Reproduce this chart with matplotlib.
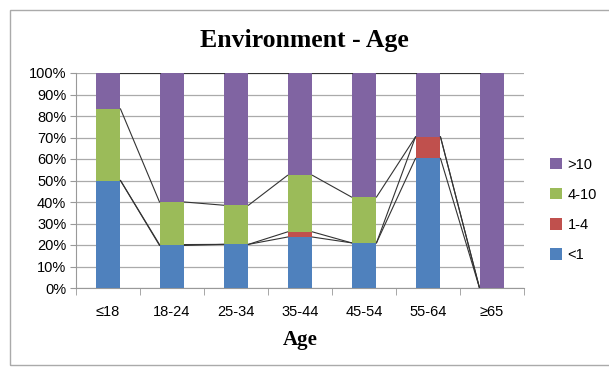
import matplotlib
matplotlib.use("Agg")
import matplotlib.pyplot as plt
import numpy as np
from matplotlib.patches import Rectangle

categories = ["≤18", "18-24", "25-34", "35-44", "45-54", "55-64", "≥65"]
lt1 = [50.0, 19.8, 20.3, 23.7, 21.0, 60.3, 0.0]
v1_4 = [0.0, 0.4, 0.0, 2.4, 0.0, 10.0, 0.0]
v4_10 = [33.3, 19.8, 18.2, 26.3, 21.3, 0.0, 0.0]
gt10 = [16.7, 60.0, 61.5, 47.6, 57.7, 29.7, 100.0]
series_names = ["<1", "1-4", "4-10", ">10"]
colors = ["#4F81BD", "#C0504D", "#9BBB59", "#8064A2"]

fig = plt.figure(figsize=(6.09, 3.67), dpi=100)
fig.patches.append(Rectangle((10/609, 2/367), 610/609, 355/367, transform=fig.transFigure,
                             fill=False, edgecolor="#AAAAAA", linewidth=1.0))
ax = fig.add_axes([76/609, 1-288/367, 448/609, 215/367])

data = [lt1, v1_4, v4_10, gt10]
x = np.arange(len(categories))
w = 0.39
bottom = np.zeros(len(categories))
cum = []
for vals, c, name in zip(data, colors, series_names):
    vals = np.array(vals)
    ax.bar(x, vals, w, bottom=bottom, color=c, label=name, zorder=3)
    bottom = bottom + vals
    cum.append(bottom.copy())

for top in cum:
    for j in range(len(categories) - 1):
        ax.plot([x[j] + w/2, x[j+1] - w/2], [top[j], top[j+1]], color="#333333",
                linewidth=0.8, zorder=4)

ax.set_xlim(-0.5, len(categories) - 0.5)
ax.set_ylim(0, 100)
ax.set_yticks(np.arange(0, 101, 10))
ax.set_yticklabels([f"{v}%" for v in range(0, 101, 10)], fontsize=10.5, family="Liberation Sans")
ax.set_xticks(x)
ax.set_xticklabels(categories, fontsize=10.5, family="DejaVu Sans")
ax.set_xticks(np.arange(-0.5, len(categories), 1), minor=True)
ax.tick_params(axis="x", which="major", length=0, pad=12)
ax.tick_params(axis="x", which="minor", length=5, color="#999999", direction="out")
ax.tick_params(axis="y", length=4, color="#999999", pad=3)
ax.grid(axis="y", color="#AAAAAA", linewidth=0.9, zorder=0)
for s in ["top", "right"]:
    ax.spines[s].set_visible(False)
ax.spines["left"].set_color("#999999")
ax.spines["bottom"].set_color("#999999")
for t in ax.get_xticklabels():
    t.set_fontfamily(["Liberation Sans", "DejaVu Sans"])

ax.set_xlabel("Age", fontsize=15, fontweight="bold", family="Liberation Serif", labelpad=8)
fig.text(0.5, 1-41/367, "Environment - Age", ha="center", va="center", fontsize=18.5,
         fontweight="bold", family="Liberation Serif")

handles, labels = ax.get_legend_handles_labels()
leg = fig.legend(handles[::-1], labels[::-1], loc="center left", bbox_to_anchor=(537/609, 1-210/367),
                 frameon=False, handlelength=0.8, handleheight=0.8,
                 labelspacing=1.1, handletextpad=0.4, prop={"family": "Liberation Sans", "size": 10.5})

fig.savefig("out.png", dpi=100)
